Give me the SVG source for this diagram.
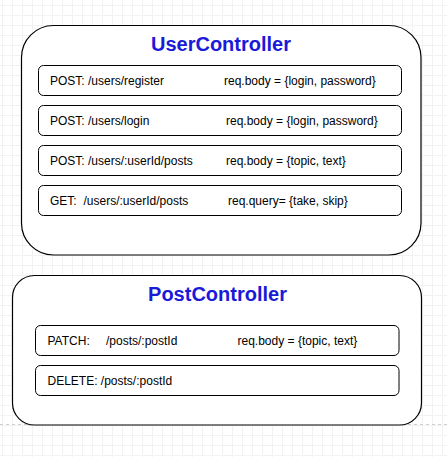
<svg xmlns="http://www.w3.org/2000/svg" width="447" height="457" viewBox="0 0 447 457">
  <defs>
    <pattern id="minor" x="2" y="5" width="10" height="10" patternUnits="userSpaceOnUse">
      <path d="M0.5 0V10M0 0.5H10" fill="none" stroke="#f2f2f2" stroke-width="1"/>
    </pattern>
    <pattern id="major" x="12" y="15" width="40" height="40" patternUnits="userSpaceOnUse">
      <path d="M-0.5 0V40M0 -0.5H40" fill="none" stroke="#e3e3e3" stroke-width="1"/>
    </pattern>
  </defs>
  <style>
    .outer { fill: #ffffff; stroke: #000000; stroke-width: 1.2; }
    .inner { fill: #ffffff; stroke: #000000; stroke-width: 1; }
    .title { font-family: "Liberation Sans", Arial, sans-serif; font-size: 20px; font-weight: bold; fill: #1a1ad9; text-anchor: middle; }
    .lbl { font-family: "Liberation Sans", Arial, sans-serif; font-size: 12px; fill: #000000; }
  </style>
  <rect width="447" height="457" fill="#ffffff"/>
  <rect width="447" height="457" fill="url(#minor)"/>
  <rect width="447" height="457" fill="url(#major)"/>
  <line x1="0" y1="424.5" x2="447" y2="424.5" stroke="#cfcfcf" stroke-width="1" stroke-dasharray="3,3"/>

  <g id="UserController">
    <rect class="outer" x="21.5" y="25.5" width="399.5" height="229.5" rx="32" ry="32"/>
    <text class="title" x="221" y="51">UserController</text>
  </g>
  <g id="user-register">
    <rect class="inner" x="38.5" y="65.5" width="363" height="30" rx="5" ry="5"/>
    <text class="lbl" y="84.5"><tspan x="50">POST: /users/register</tspan><tspan x="224">req.body = {login, password}</tspan></text>
  </g>
  <g id="user-login">
    <rect class="inner" x="38.5" y="105.5" width="363" height="30" rx="5" ry="5"/>
    <text class="lbl" y="124.5"><tspan x="50">POST: /users/login</tspan><tspan x="226">req.body = {login, password}</tspan></text>
  </g>
  <g id="user-posts-create">
    <rect class="inner" x="38.5" y="145.5" width="363" height="30" rx="5" ry="5"/>
    <text class="lbl" y="164.5"><tspan x="50">POST: /users/:userId/posts</tspan><tspan x="226">req.body = {topic, text}</tspan></text>
  </g>
  <g id="user-posts-get">
    <rect class="inner" x="38.5" y="185.5" width="363" height="30" rx="5" ry="5"/>
    <text class="lbl" y="204.5"><tspan x="50">GET:</tspan><tspan x="83.5">/users/:userId/posts</tspan><tspan x="228">req.query= {take, skip}</tspan></text>
  </g>

  <g id="PostController">
    <rect class="outer" x="12.5" y="275.5" width="409" height="149.5" rx="22" ry="22"/>
    <text class="title" x="217.5" y="301">PostController</text>
  </g>
  <g id="post-patch">
    <rect class="inner" x="35.5" y="325.5" width="363.5" height="30" rx="5" ry="5"/>
    <text class="lbl" y="344.5"><tspan x="47.5">PATCH:</tspan><tspan x="106">/posts/:postId</tspan><tspan x="237.5">req.body = {topic, text}</tspan></text>
  </g>
  <g id="post-delete">
    <rect class="inner" x="35.5" y="365.5" width="363.5" height="30" rx="5" ry="5"/>
    <text class="lbl" y="384.5"><tspan x="47.5">DELETE: /posts/:postId</tspan></text>
  </g>

  <g id="connectors"/>
</svg>
